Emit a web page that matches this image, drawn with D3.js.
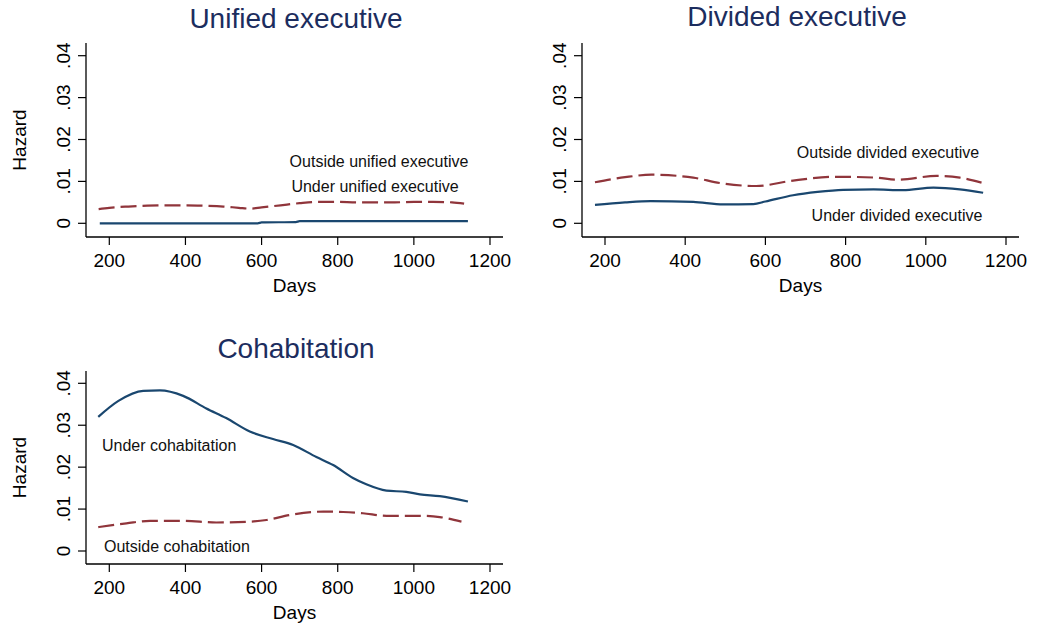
<!DOCTYPE html>
<html>
<head>
<meta charset="utf-8">
<script src="https://cdn.jsdelivr.net/npm/d3@7"></script>
<style>
  body { margin: 0; background: #fff; }
  svg { display: block; font-family: "Liberation Sans", Arial, sans-serif; }
  .tick-label { font-size: 19px; fill: #000; }
  .axis-title { font-size: 19px; fill: #000; }
  .panel-title { font-size: 28px; fill: #1c2d5e; }
  .curve-label { font-size: 16px; fill: #111; }
</style>
</head>
<body>
<svg id="chart" width="1037" height="628"></svg>
<script>
// ---- data ----
const xTicks = [200, 400, 600, 800, 1000, 1200];
const yTicks = [0, 0.01, 0.02, 0.03, 0.04];
const yTickLabels = ["0", ".01", ".02", ".03", ".04"];

const unifiedUnderDays = [175, 300, 450, 590, 600, 690, 700, 850, 1000, 1142];
const unifiedUnder     = [0.0000, 0.0000, 0.0000, 0.0000, 0.0002, 0.0003, 0.0005, 0.0005, 0.0005, 0.0005];
const unifiedOutDays   = [172, 200, 250, 300, 350, 400, 450, 500, 540, 570, 600, 650, 700, 750, 800, 850, 900, 950, 1000, 1050, 1100, 1132];
const unifiedOutside   = [0.0034, 0.0037, 0.0040, 0.0042, 0.0043, 0.0043, 0.0042, 0.0040, 0.0037, 0.0035, 0.0038, 0.0043, 0.0048, 0.0051, 0.0051, 0.0050, 0.0050, 0.0050, 0.0051, 0.0051, 0.0050, 0.0047];

const dividedUnderDays = [175, 250, 314, 420, 495, 570, 600, 669, 730, 794, 870, 943, 1019, 1085, 1143];
const dividedUnder     = [0.0044, 0.0050, 0.0053, 0.0051, 0.0045, 0.0046, 0.0052, 0.0067, 0.0075, 0.0080, 0.0081, 0.0079, 0.0085, 0.0081, 0.0073];
const dividedOutDays   = [175, 250, 316, 420, 487, 577, 669, 778, 877, 927, 1027, 1085, 1139];
const dividedOutside   = [0.0098, 0.0110, 0.0116, 0.0109, 0.0096, 0.0089, 0.0102, 0.0111, 0.0109, 0.0104, 0.0113, 0.0109, 0.0097];

const cohabUnderDays = [171, 224, 289, 333, 394, 455, 507, 569, 630, 683, 744, 788, 840, 875, 928, 980, 1016, 1068, 1142];
const cohabUnder     = [0.0320, 0.0358, 0.0382, 0.0383, 0.0370, 0.0340, 0.0317, 0.0285, 0.0267, 0.0253, 0.0224, 0.0205, 0.0174, 0.0159, 0.0144, 0.0141, 0.0135, 0.0131, 0.0118];
const cohabOutDays   = [171, 245, 307, 394, 481, 569, 613, 675, 762, 814, 866, 928, 1016, 1068, 1125];
const cohabOutside   = [0.0057, 0.0066, 0.0072, 0.0072, 0.0068, 0.0070, 0.0074, 0.0086, 0.0094, 0.0093, 0.0090, 0.0084, 0.0084, 0.0081, 0.0070];

const navy = "#1a476f";
const maroon = "#90353b";

const svg = d3.select("#chart");

function zip(xs, ys) { return xs.map((d, i) => [d, ys[i]]); }

function drawPanel(p) {
    const g = svg.append("g");
    const x = d3.scaleLinear().domain([200, 1200]).range(p.xRange);
    const y = d3.scaleLinear().domain([0, 0.04]).range(p.yRange);

    // axes lines
    g.append("line").attr("x1", p.axisX).attr("x2", p.axisX)
        .attr("y1", p.axisTop).attr("y2", p.axisY)
        .attr("stroke", "#000").attr("stroke-width", 1.3);
    g.append("line").attr("x1", p.axisX).attr("x2", p.axisRight)
        .attr("y1", p.axisY).attr("y2", p.axisY)
        .attr("stroke", "#000").attr("stroke-width", 1.3);

    // y ticks
    yTicks.forEach((t, i) => {
        g.append("line").attr("x1", p.axisX - 8).attr("x2", p.axisX)
            .attr("y1", y(t)).attr("y2", y(t))
            .attr("stroke", "#000").attr("stroke-width", 1.2);
        g.append("text").attr("class", "tick-label")
            .attr("transform", `translate(${p.axisX - 16},${y(t)}) rotate(-90)`)
            .attr("text-anchor", "middle")
            .text(yTickLabels[i]);
    });

    // x ticks
    xTicks.forEach(t => {
        g.append("line").attr("x1", x(t)).attr("x2", x(t))
            .attr("y1", p.axisY).attr("y2", p.axisY + 8)
            .attr("stroke", "#000").attr("stroke-width", 1.2);
        g.append("text").attr("class", "tick-label")
            .attr("x", x(t)).attr("y", p.axisY + 30)
            .attr("text-anchor", "middle")
            .text(t);
    });

    g.append("text").attr("class", "axis-title")
        .attr("x", (p.axisX + p.axisRight) / 2).attr("y", p.axisY + 55)
        .attr("text-anchor", "middle").text("Days");

    if (p.yTitle) {
        g.append("text").attr("class", "axis-title")
            .attr("transform", `translate(${p.axisX - 60},${(p.axisTop + p.axisY) / 2}) rotate(-90)`)
            .attr("text-anchor", "middle").text("Hazard");
    }

    g.append("text").attr("class", "panel-title")
        .attr("x", p.titleX).attr("y", p.titleY)
        .attr("text-anchor", "middle").text(p.title);

    const line = d3.line().x(d => x(d[0])).y(d => y(d[1])).curve(d3.curveMonotoneX);

    g.append("path").datum(zip(p.outDays, p.outVals))
        .attr("d", line).attr("fill", "none")
        .attr("stroke", maroon).attr("stroke-width", 2.2)
        .attr("stroke-dasharray", "16,6");
    g.append("path").datum(zip(p.underDays, p.underVals))
        .attr("d", line).attr("fill", "none")
        .attr("stroke", navy).attr("stroke-width", 2.2);

    p.labels.forEach(l => {
        g.append("text").attr("class", "curve-label")
            .attr("x", l.x).attr("y", l.y)
            .attr("dy", "0.35em")
            .attr("text-anchor", l.anchor)
            .text(l.text);
    });
}

drawPanel({
    title: "Unified executive", titleX: 296, titleY: 28, yTitle: true,
    xRange: [109.3, 490], yRange: [223.3, 55.7],
    axisX: 86, axisRight: 503, axisTop: 43, axisY: 237,
    underDays: unifiedUnderDays, underVals: unifiedUnder,
    outDays: unifiedOutDays, outVals: unifiedOutside,
    labels: [
        { text: "Outside unified executive", x: 379, y: 161.7, anchor: "middle" },
        { text: "Under unified executive", x: 375, y: 186.7, anchor: "middle" }
    ]
});

drawPanel({
    title: "Divided executive", titleX: 797, titleY: 26, yTitle: false,
    xRange: [605, 1006], yRange: [223.3, 55.7],
    axisX: 582, axisRight: 1019, axisTop: 43, axisY: 237,
    underDays: dividedUnderDays, underVals: dividedUnder,
    outDays: dividedOutDays, outVals: dividedOutside,
    labels: [
        { text: "Outside divided executive", x: 888, y: 152.7, anchor: "middle" },
        { text: "Under divided executive", x: 897, y: 215.7, anchor: "middle" }
    ]
});

drawPanel({
    title: "Cohabitation", titleX: 296, titleY: 358, yTitle: true,
    xRange: [109.3, 490], yRange: [551, 383.3],
    axisX: 86, axisRight: 503, axisTop: 371, axisY: 564,
    underDays: cohabUnderDays, underVals: cohabUnder,
    outDays: cohabOutDays, outVals: cohabOutside,
    labels: [
        { text: "Under cohabitation", x: 102, y: 445, anchor: "start" },
        { text: "Outside cohabitation", x: 104, y: 546.7, anchor: "start" }
    ]
});
</script>
</body>
</html>
